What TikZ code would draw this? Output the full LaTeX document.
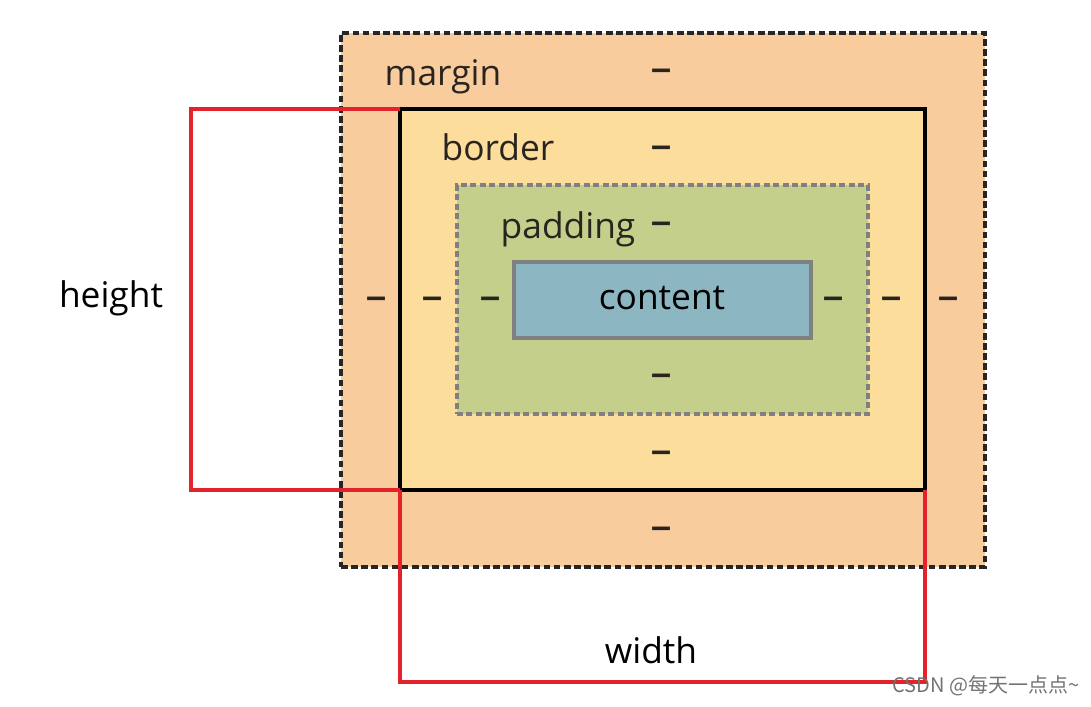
\documentclass[tikz,border=0pt]{standalone}
\usepackage{fontspec}
\setmainfont{Open Sans}
\newfontfamily\cjk{Noto Sans CJK SC}
\newfontfamily\dashfont{Liberation Sans}
\usepackage{xcolor}
\usetikzlibrary{positioning}
\definecolor{marginfill}{HTML}{F9CC9D}
\definecolor{borderfill}{HTML}{FDDD9B}
\definecolor{paddingfill}{HTML}{C4CF8B}
\definecolor{contentfill}{HTML}{8CB6C1}
\definecolor{sizered}{HTML}{E3222C}
\definecolor{labelink}{HTML}{2A2420}

\begin{document}
\begin{tikzpicture}[
    x=0.75pt, y=-0.75pt,
    layer/.style={inner sep=0pt, outer sep=0pt},
    marginbox/.style={layer, draw=black!85, fill=marginfill, line width=2.5pt, dash pattern=on 5pt off 2.6pt, minimum width=483pt, minimum height=400.5pt},
    borderbox/.style={layer, draw=black, fill=borderfill, line width=2.3pt, minimum width=393.75pt, minimum height=285.75pt},
    paddingbox/.style={layer, draw=black!50, fill=paddingfill, line width=2.6pt, dash pattern=on 4.5pt off 2.6pt, minimum width=308.25pt, minimum height=171.75pt},
    contentbox/.style={layer, draw=black!50, fill=contentfill, line width=2.5pt, minimum width=222.75pt, minimum height=57pt},
    tag/.style={font=\fontsize{26.5}{30}\selectfont, text=labelink, inner sep=0pt, anchor=base},
    gap/.style={font=\dashfont\bfseries\fontsize{27}{30}\selectfont, text=labelink, inner sep=0pt},
    sizeline/.style={draw=sizered, line width=2.4pt}
]
\useasboundingbox (0,0) rectangle (1091,706);
% nested boxes
\node[marginbox] (margin) at (663,300) {};
\node[borderbox] (border) at (662.5,299.5) {};
\node[paddingbox] (padding) at (662.5,299.5) {};
\node[contentbox] (content) at (662.5,300) {};
% box labels
\node[tag] (marginlbl) at (443,86) {margin};
\node[tag] (borderlbl) at (498,161) {border};
\node[tag] (paddinglbl) at (568,238) {padding};
\node[tag, text=black] (contentlbl) at (662,309) {content};
% dashes
\foreach \y [count=\i] in {75,152,228,380,457,533}
    \node[gap] (vgap\i) at (662,\y) {–};
\foreach \x [count=\i] in {377,433,491,833,891,948}
    \node[gap] (hgap\i) at (\x,303) {–};
% height / width marks
\coordinate (htop) at (191,109);
\coordinate (hbot) at (191,490);
\coordinate (wleft) at (400,682);
\coordinate (wright) at (925,682);
\draw[sizeline] (border.north west) -- (htop) -- (hbot) -- (border.south west);
\draw[sizeline] (border.south west) -- (wleft) -- (wright) -- (border.south east);
\node[tag, text=black] (heightlbl) at (111,307) {height};
\node[tag, text=black] (widthlbl) at (651,663) {width};
% watermark
\node[font=\cjk\fontsize{15}{18}\selectfont, text=black!55, anchor=west, inner sep=0pt] (mark) at (892,686) {CSDN @每天一点点\textasciitilde};
\end{tikzpicture}
\end{document}
